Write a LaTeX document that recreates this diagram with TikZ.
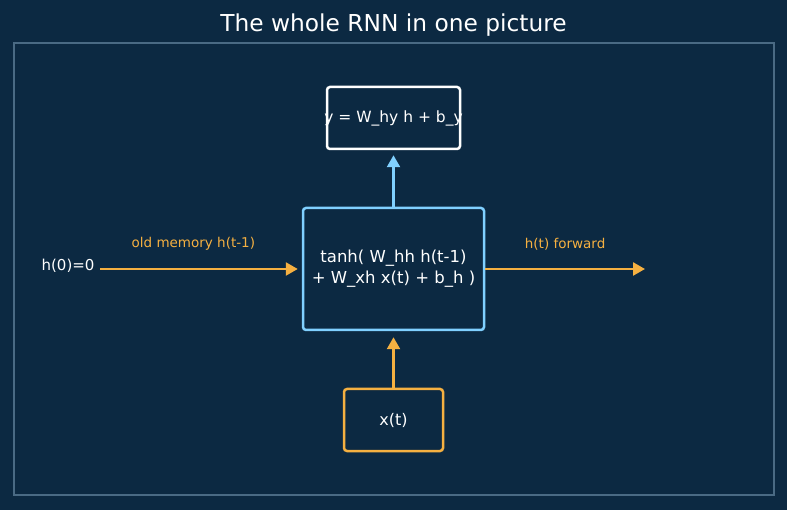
\documentclass[tikz,border=0pt]{standalone}
\usepackage{fontspec}
\setmainfont{DejaVu Sans}
\usetikzlibrary{arrows.meta}
\definecolor{bgc}{RGB}{12,41,66}
\definecolor{framec}{RGB}{74,106,132}
\definecolor{lblue}{RGB}{128,208,255}
\definecolor{orng}{RGB}{245,176,65}
\tikzset{
  box/.style={draw, line width=2.5pt, rounded corners=3pt, inner sep=0pt},
  arr/.style={line width=2.5pt, -{Triangle[length=12pt,width=13pt]}},
  lbl/.style={text=orng, font=\fontsize{13.5}{16}\selectfont},
  wtxt/.style={text=white},
}
\begin{document}
\begin{tikzpicture}[x=1pt,y=-1pt]
\fill[bgc] (0,0) rectangle (787,510);
\useasboundingbox (0,0) rectangle (787,510);
\draw[framec, line width=1.3pt] (14,43) rectangle (774,495);
\node[wtxt, font=\fontsize{23.3}{27}\selectfont] (title) at (393.5,25.5) {The whole RNN in one picture};
% top box
\node[wtxt, font=\fontsize{15.5}{18}\selectfont] (ytxt) at (393.5,118) {y = W\_hy h + b\_y};
\node[box, draw=white, minimum width=133pt, minimum height=62pt] (ybox) at (393.5,118) {};
% main box
\node[box, draw=lblue, minimum width=181pt, minimum height=122pt, wtxt, align=center, font=\fontsize{16.5}{21}\selectfont] (cell) at (393.5,269) {tanh( W\_hh h(t-1)\\+ W\_xh x(t) + b\_h )};
% bottom box
\node[box, draw=orng, minimum width=99pt, minimum height=62pt, wtxt, font=\fontsize{16}{19}\selectfont] (xbox) at (393.5,420) {x(t)};
% left input
\node[wtxt, font=\fontsize{15}{18}\selectfont, anchor=east] (h0) at (98,266) {h(0)=0};
\coordinate (lstart) at (100,269);
\coordinate (rend) at (645,269);
\draw[arr, orng] (lstart) -- ([xshift=-4pt]cell.west) node[midway, above=14pt, xshift=-5.5pt, lbl] (oldlbl) {old memory h(t-1)};
\draw[arr, orng] (cell.east) -- (rend) node[midway, above=14pt, lbl] (fwdlbl) {h(t) forward};
\draw[arr, orng] (xbox.north) -- ([yshift=-6pt]cell.south);
\draw[arr, lblue] (cell.north) -- ([yshift=-5pt]ybox.south);
\end{tikzpicture}
\end{document}
